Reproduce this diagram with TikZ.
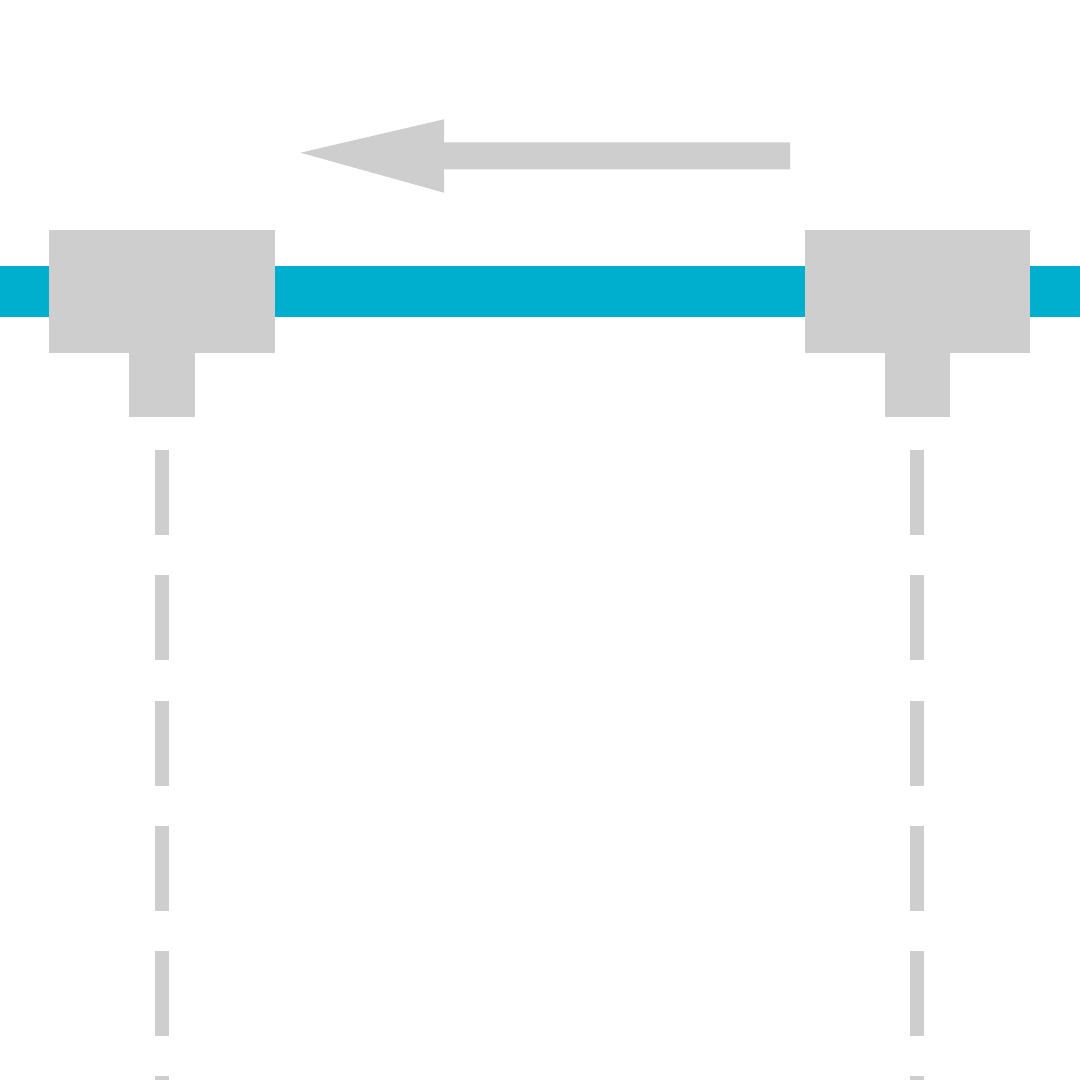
\documentclass[tikz,border=0pt]{standalone}
\usepackage{tikz}
\usetikzlibrary{positioning}

\definecolor{rail}{HTML}{00AFCE}
\definecolor{part}{HTML}{CECECE}

\begin{document}
\begin{tikzpicture}[x=0.02cm, y=-0.02cm,
    head/.style={rectangle, fill=part, inner sep=0pt, minimum width=4.52cm, minimum height=2.46cm},
    stem/.style={rectangle, fill=part, inner sep=0pt, minimum width=1.32cm, minimum height=1.32cm},
    guide/.style={draw=part, line width=0.28cm, dash pattern=on 1.7cm off 0.806cm}]
            \useasboundingbox (0,0) rectangle (1080,1080);
            \fill[rail] (0,266) rectangle (1080,316.5);
            \node[head] (lhead) at (162,291.5) {};
            \node[stem, below=-0.06cm of lhead] (lstem) {};
            \node[head] (rhead) at (917.5,291.5) {};
            \node[stem, below=-0.06cm of rhead] (rstem) {};
            \coordinate (ltop) at (162,450);
            \coordinate (lend) at (162,1085);
            \coordinate (rtop) at (917,450);
            \coordinate (rend) at (917,1085);
            \draw[guide] (ltop) -- (lend);
            \draw[guide] (rtop) -- (rend);
            % arrow pointing left
            \coordinate (tip) at (300.5,152.7);
            \coordinate (tail) at (790,155.8);
            \fill[part] (tip) -- (444,119.3) -- (444,142.3) -- (tail |- 0,142.3) -- (tail |- 0,169.3) -- (444,169.3) -- (444,192.7) -- cycle;
        \end{tikzpicture}
\end{document}
